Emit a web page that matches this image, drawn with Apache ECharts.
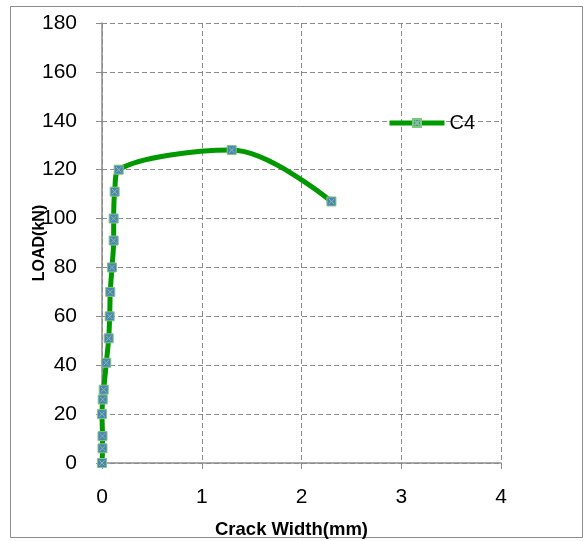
<!DOCTYPE html>
<html>
<head>
<meta charset="utf-8">
<script src="https://cdn.jsdelivr.net/npm/echarts@6/dist/echarts.min.js"></script>
<style>
  html, body { margin: 0; padding: 0; background: #fff; }
  #chart { width: 584px; height: 541px; }
</style>
</head>
<body>
<div id="chart"></div>
<script>
// Crack width (mm) against load (kN) for specimen C4
const seriesName = 'C4';
const crackWidth = [0, 0.005, 0.005, 0.0, 0.007, 0.017, 0.043, 0.067, 0.077, 0.083, 0.10, 0.117, 0.117, 0.127, 0.167, 1.30, 2.30];
const load       = [0, 6, 11, 20, 26, 30, 41, 51, 60, 70, 80, 91, 100, 111, 120, 128, 107];
const xTicks = [0, 1, 2, 3, 4];
const yTicks = [0, 20, 40, 60, 80, 100, 120, 140, 160, 180];

const points = crackWidth.map((w, i) => [w, load[i]]);

// square marker with a cross drawn through it
const markerPath = 'path://M0,0 L10,0 L10,10 L0,10 Z M2,2 L8,8 M8,2 L2,8';

const chart = echarts.init(document.getElementById('chart'), null, { renderer: 'canvas' });

const font = '"Liberation Sans", "DejaVu Sans", sans-serif';

chart.setOption({
  animation: false,
  backgroundColor: '#fff',
  graphic: [{
    type: 'rect',
    shape: { x: 10.5, y: 6.5, width: 572, height: 531 },
    style: { fill: 'none', stroke: '#8c8c8c', lineWidth: 1 },
    silent: true
  }],
  grid: { left: 102, right: 83, top: 23, bottom: 78, containLabel: false, outerBoundsMode: 'none' },
  legend: {
    data: [seriesName],
    left: 387, top: 113,
    padding: 0,
    itemWidth: 55, itemHeight: 10,
    itemGap: 2,
    lineStyle: { width: 5 },
    textStyle: { fontFamily: font, fontSize: 20, color: '#000', padding: [0, 0, 0, 0] }
  },
  xAxis: {
    type: 'value',
    min: 0, max: 4, interval: 1,
    name: 'Crack Width(mm)',
    nameLocation: 'middle',
    nameGap: 57,
    nameMoveOverlap: false,
    nameTextStyle: { fontFamily: font, fontSize: 18.5, fontWeight: 'bold', color: '#000', padding: [0, 20, 0, 0] },
    axisLine: { onZero: false, lineStyle: { color: '#8c8c8c', width: 1.5 } },
    axisTick: { show: true, inside: false, length: 6, lineStyle: { color: '#8c8c8c' } },
    axisLabel: {
      fontFamily: font, fontSize: 21, color: '#000', margin: 24,
      formatter: v => xTicks.includes(v) ? String(v) : ''
    },
    splitLine: { show: true, lineStyle: { color: '#8a8a8a', type: [5, 3], width: 1 } }
  },
  yAxis: {
    type: 'value',
    min: 0, max: 180, interval: 20,
    name: 'LOAD(kN)',
    nameLocation: 'middle',
    nameGap: 54,
    nameMoveOverlap: false,
    nameTextStyle: { fontFamily: font, fontSize: 16, fontWeight: 'bold', color: '#000' },
    axisLine: { show: true, lineStyle: { color: '#8c8c8c', width: 1.5 } },
    axisTick: { show: true, inside: false, length: 6, lineStyle: { color: '#8c8c8c' } },
    axisLabel: {
      fontFamily: font, fontSize: 21, color: '#000', margin: 25,
      formatter: v => yTicks.includes(v) ? String(v) : ''
    },
    splitLine: { show: true, lineStyle: { color: '#8a8a8a', type: [5, 3], width: 1 } }
  },
  series: [{
    name: seriesName,
    type: 'line',
    data: points,
    smooth: 0.35,
    lineStyle: { color: '#009900', width: 5 },
    symbol: markerPath,
    symbolSize: 9,
    itemStyle: { color: '#4f81bd', borderColor: '#7ec87e', borderWidth: 1 },
    z: 3
  }]
});
</script>
</body>
</html>
